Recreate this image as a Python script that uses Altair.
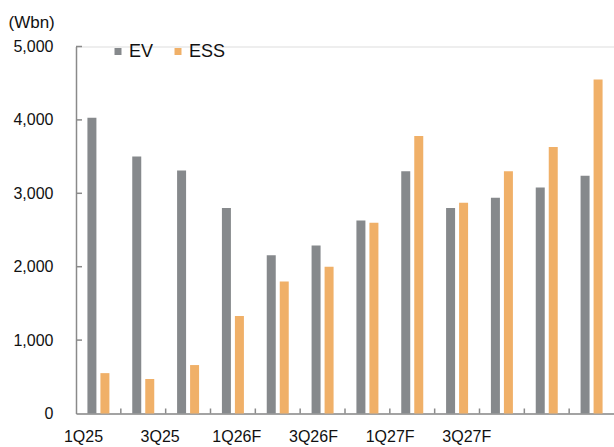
import altair as alt
import pandas as pd

# Quarterly revenue by segment (Wbn)
quarters = ["1Q25", "2Q25", "3Q25", "4Q25",
            "1Q26F", "2Q26F", "3Q26F", "4Q26F",
            "1Q27F", "2Q27F", "3Q27F", "4Q27F"]
ev = [4030, 3500, 3310, 2800, 2155, 2290, 2630, 3300, 2800, 2940, 3080, 3240]
ess = [550, 470, 660, 1330, 1800, 2000, 2600, 3780, 2870, 3300, 3630, 4550]

series = ["EV", "ESS"]
colors = ["#86898c", "#f0b068"]
y_ticks = [1000, 2000, 3000, 4000, 5000]
shown_labels = ["1Q25", "3Q25", "1Q26F", "3Q26F", "1Q27F", "3Q27F"]

rows = []
for q, a, b in zip(quarters, ev, ess):
    rows.append({"q": q, "series": "EV", "value": a})
    rows.append({"q": q, "series": "ESS", "value": b})
df = pd.DataFrame(rows)
ytick_df = pd.DataFrame({"value": y_ticks})
xtick_df = pd.DataFrame({"q": quarters[1:]})

FONT = "Liberation Sans, Arial"
AXIS_GRAY = "#8a8a8a"

x_axis = alt.Axis(
    values=shown_labels, ticks=False, tickSize=0, domainColor=AXIS_GRAY,
    domainWidth=1.5, labelAngle=0, labelFont=FONT, labelFontSize=16,
    labelColor="#111111", labelBaseline="top", labelPadding=15,
    labelOffset=alt.ExprRef("-14.9 - 65.1 * datum.index"), title=None,
    grid=False,
)
y_axis = alt.Axis(
    values=[0] + y_ticks, format=",d", ticks=False, tickSize=0,
    domainColor=AXIS_GRAY, domainWidth=1.5, labelFont=FONT, labelFontSize=16,
    labelColor="#111111", labelPadding=23, grid=False,
    title="(Wbn)", titleAngle=0, titleAlign="left", titleBaseline="top",
    titleX=-68, titleY=-32, titleFont=FONT, titleFontSize=17,
    titleFontWeight="normal", titleColor="#111111",
)

x_scale = alt.Scale(domain=quarters, paddingInner=0, paddingOuter=0)
y_scale = alt.Scale(domain=[0, 5000], nice=False)

bars = alt.Chart(df).mark_bar().encode(
    x=alt.X("q:N", sort=quarters, scale=x_scale, axis=x_axis),
    xOffset=alt.XOffset("series:N", sort=series,
                        scale=alt.Scale(domain=series, paddingInner=0.3077,
                                        paddingOuter=0.878)),
    y=alt.Y("value:Q", scale=y_scale, axis=y_axis),
    color=alt.Color(
        "series:N", sort=series,
        scale=alt.Scale(domain=series, range=colors),
        legend=alt.Legend(
            title=None, orient="none", direction="horizontal",
            legendX=33, legendY=-4, symbolType="square", symbolSize=49,
            symbolStrokeWidth=0, labelFont=FONT, labelFontSize=18,
            labelColor="#111111", labelOffset=2, columnPadding=15,
        ),
    ),
)

# inward tick marks on the value axis
y_tick_marks = alt.Chart(ytick_df).mark_rule(
    color=AXIS_GRAY, strokeWidth=1.5
).encode(
    y=alt.Y("value:Q", scale=y_scale, axis=y_axis),
    x=alt.value(0),
    x2=alt.value(6),
)

# inward tick marks at the category boundaries
x_tick_marks = alt.Chart(xtick_df).mark_rule(
    color=AXIS_GRAY, strokeWidth=1.5
).encode(
    x=alt.X("q:N", sort=quarters, scale=x_scale, axis=x_axis, bandPosition=0),
    y=alt.value(367),
    y2=alt.value(362),
)

chart = alt.layer(bars, y_tick_marks, x_tick_marks).properties(
    width=538,
    height=367,
    autosize=alt.AutoSizeParams(type="none"),
    padding={"left": 76, "top": 46.5, "right": 0, "bottom": 33.5},
).configure_view(stroke=None).configure(background="white")

chart.save("out.html", embed_options={"renderer": "svg", "actions": False})
